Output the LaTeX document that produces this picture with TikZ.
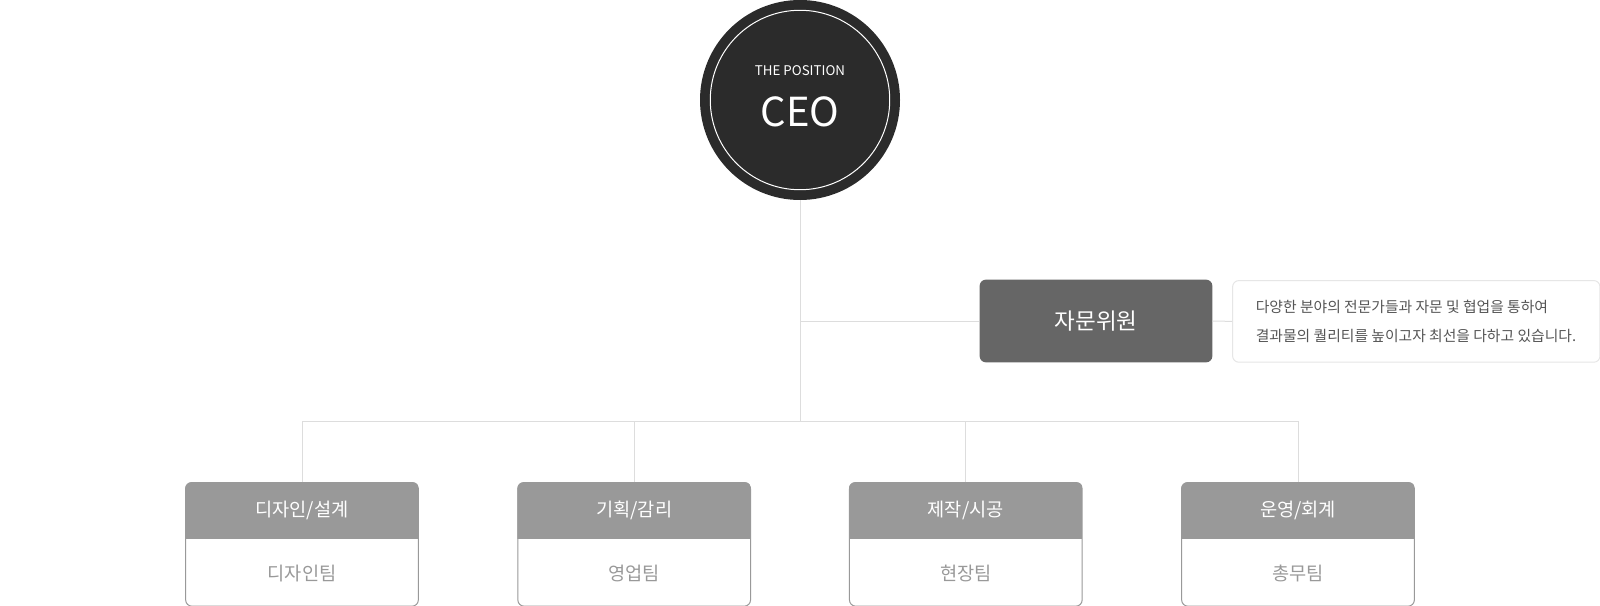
\documentclass[tikz,border=0pt]{standalone}
\usepackage{fontspec}
\newfontfamily\krfont{Noto Sans CJK KR}
\definecolor{ceogray}{HTML}{2B2B2B}
\definecolor{advgray}{HTML}{666666}
\definecolor{deptgray}{HTML}{999999}
\definecolor{linegray}{HTML}{DDDDDD}
\definecolor{descline}{HTML}{E6E6E6}
\definecolor{descgray}{HTML}{555555}

\begin{document}
\begin{tikzpicture}[x=0.75pt,y=-0.75pt,
    conn/.style={draw=linegray, line width=0.75pt},
    ceobox/.style={circle, fill=ceogray, minimum size=150pt, inner sep=0pt},
    advbox/.style={rectangle, rounded corners=4.6pt, fill=advgray, text=white, minimum width=174.5pt, minimum height=62pt, font=\krfont\fontsize{16.9pt}{20pt}\selectfont},
    descbox/.style={rectangle, rounded corners=4.6pt, draw=descline, line width=0.75pt, fill=white, minimum width=275.5pt, minimum height=61.2pt},
    desctext/.style={text=descgray, align=left, inner sep=0pt, font=\krfont\fontsize{11.1pt}{21.4pt}\selectfont},
    deptbox/.style={rectangle, rounded corners=4.6pt, draw=deptgray, line width=0.75pt, fill=white, minimum width=174.5pt, minimum height=92.6pt},
    hdtext/.style={text=white, font=\krfont\fontsize{14pt}{17pt}\selectfont},
    bdtext/.style={text=deptgray, font=\krfont\fontsize{14pt}{17pt}\selectfont}]
    \useasboundingbox (0,0) rectangle (1600,606);

    \node[ceobox] (ceo) at (800,100) {}; % ceo circle
    \draw[white, line width=0.75pt] (ceo.center) circle[radius=67.3pt];
    \node[text=white, font=\krfont\fontsize{10pt}{12pt}\selectfont] (pos) at (800,70.4) {THE POSITION};
    \node[text=white, font=\krfont\fontsize{30pt}{36pt}\selectfont] (ceoname) at (800,112.2) {CEO};

    \node[advbox] (adv) at (1096,321) {자문위원}; % advisory board
    \node[descbox] (desc) at (1416.3,321.4) {};
    \node[desctext, anchor=west] (desctxt) at ([xshift=17.6pt]desc.west) {다양한 분야의 전문가들과 자문 및 협업을 통하여\\결과물의 퀄리티를 높이고자 최선을 다하고 있습니다.};

    \coordinate (split) at (800,421.4);
    \draw[conn] (ceo.south) -- (split); % trunk
    \draw[conn] (ceo.south |- adv.west) -- (adv.west);
    \draw[conn] (adv.east) -- (desc.west);

    \foreach \n/\x/\hd/\bd in {1/302/{디자인/설계}/디자인팀, 2/634.2/{기획/감리}/영업팀, 3/965.8/{제작/시공}/현장팀, 4/1298/{운영/회계}/총무팀}{
      \node[deptbox] (d\n) at (\x,544.4) {};
      \begin{scope}
        \clip[rounded corners=4.6pt] (d\n.south west) rectangle (d\n.north east);
        \fill[deptgray] (d\n.north west) rectangle ([yshift=-42.9pt]d\n.north east); % header
      \end{scope}
      \node[hdtext] (h\n) at ([yshift=-21.4pt]d\n.north) {\hd};
      \node[bdtext] (b\n) at ([yshift=25pt]d\n.south) {\bd};
      \draw[conn] (d\n.north) -- (d\n.north |- split);
    }
    \draw[conn] (d1.north |- split) -- (d4.north |- split); % branch line
\end{tikzpicture}
\end{document}
